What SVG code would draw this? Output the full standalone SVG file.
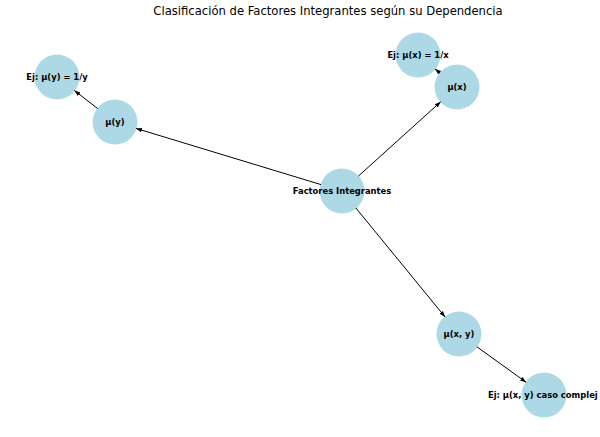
<svg xmlns="http://www.w3.org/2000/svg" width="600" height="437" viewBox="0 0 600 437">
<style>
.n{fill:#ADD8E6}
.l{font-family:"DejaVu Sans",sans-serif;font-weight:bold;font-size:8.4px;fill:#000;text-anchor:middle}
.e{stroke:#000;stroke-width:1;fill:none;marker-end:url(#a)}
</style>
<defs>
<marker id="a" markerUnits="userSpaceOnUse" markerWidth="8" markerHeight="6" refX="6" refY="3" orient="auto" viewBox="0 0 8 6">
<path d="M0,0.8 L6,3 L0,5.2 Z" fill="#000"/>
</marker>
</defs>
<rect width="600" height="437" fill="#fff"/>
<text x="328" y="15" font-family="DejaVu Sans,sans-serif" font-size="11.6px" text-anchor="middle" fill="#000">Clasificación de Factores Integrantes según su Dependencia</text>
<g id="nodes-circles">
<g id="n-factores"><circle class="n" cx="342" cy="191" r="22.5"/></g>
<g id="n-mux"><circle class="n" cx="457" cy="87" r="22.5"/></g>
<g id="n-ejmux"><circle class="n" cx="418" cy="55" r="22.5"/></g>
<g id="n-muy"><circle class="n" cx="115" cy="122" r="22.5"/></g>
<g id="n-ejmuy"><circle class="n" cx="57" cy="77" r="22.5"/></g>
<g id="n-muxy"><circle class="n" cx="459" cy="334" r="22.5"/></g>
<g id="n-ejmuxy"><circle class="n" cx="544" cy="395" r="22.5"/></g>
</g>
<g id="edges">
<line class="e" x1="358.3" y1="176.2" x2="440.7" y2="101.8"/>
<line class="e" x1="321" y1="184.6" x2="136" y2="128.4"/>
<line class="e" x1="355.9" y1="208" x2="445.1" y2="317"/>
<line class="e" x1="440" y1="73" x2="435" y2="69"/>
<line class="e" x1="97.6" y1="108.5" x2="74.4" y2="90.5"/>
<line class="e" x1="476.9" y1="346.8" x2="526.1" y2="382.2"/>
</g>
<g id="labels">
<text class="l" x="342" y="194">Factores Integrantes</text>
<text class="l" x="457" y="90">μ(x)</text>
<text class="l" x="418" y="58">Ej: μ(x) = 1/x</text>
<text class="l" x="115" y="125">μ(y)</text>
<text class="l" x="57" y="80">Ej: μ(y) = 1/y</text>
<text class="l" x="459" y="337">μ(x, y)</text>
<text class="l" x="488" y="398" style="text-anchor:start">Ej: μ(x, y) caso complej</text>
</g>
</svg>
